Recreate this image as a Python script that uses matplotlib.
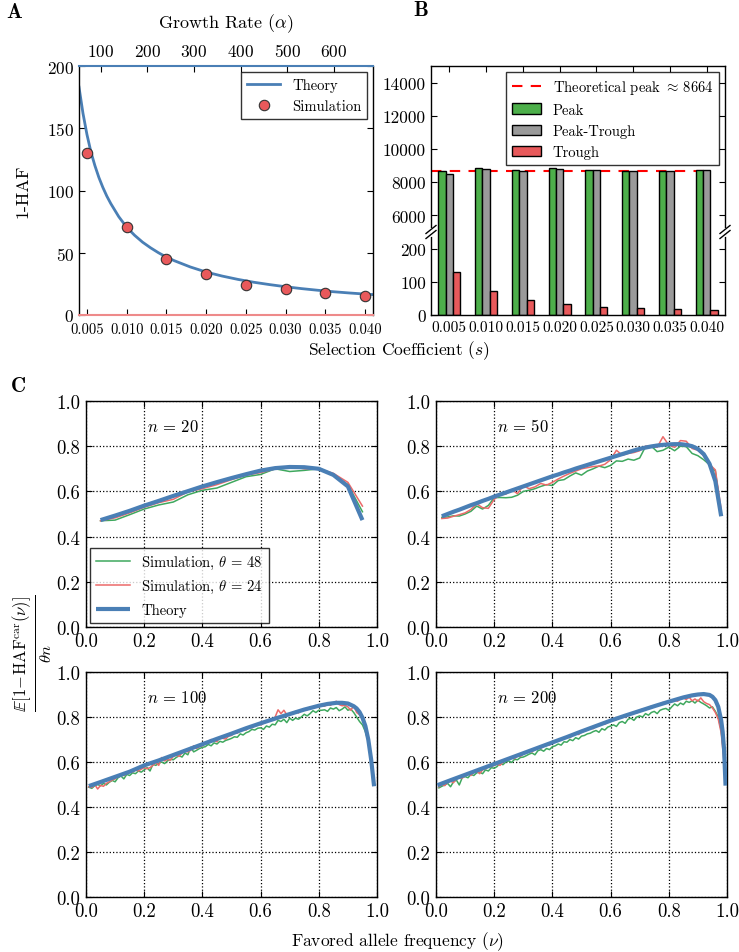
import numpy as np
import matplotlib
matplotlib.use('Agg')
import matplotlib.pyplot as plt
from matplotlib.lines import Line2D

plt.rcParams.update({
    'font.family': 'cmr10',
    'mathtext.fontset': 'cm',
    'axes.formatter.use_mathtext': True,
    'xtick.direction': 'in', 'ytick.direction': 'in',
    'xtick.major.size': 4, 'ytick.major.size': 4,
    'axes.linewidth': 1.0,
    'axes.unicode_minus': False,
})

# ---------------- data ----------------
s_vals = [0.005, 0.010, 0.015, 0.020, 0.025, 0.030, 0.035, 0.040]
s_labels = ['0.005', '0.010', '0.015', '0.020', '0.025', '0.030', '0.035', '0.040']
sim_haf = [130, 71, 45, 33, 24, 21, 17.5, 15]
theory_s = [0.004, 0.0045, 0.005, 0.0055, 0.006, 0.0065, 0.007, 0.0075, 0.008, 0.009,
            0.010, 0.011, 0.012, 0.013, 0.014, 0.015, 0.016, 0.018, 0.020, 0.022,
            0.024, 0.026, 0.028, 0.030, 0.032, 0.034, 0.036, 0.038, 0.040, 0.041]
theory_haf = [183, 162, 145, 131, 120, 110.5, 102.5, 95.5, 89.5, 79,
              70.5, 64, 58.5, 54, 50, 46.5, 43.6, 38.6, 34.5, 31.3,
              28.6, 26.3, 24.4, 22.7, 21.2, 19.9, 18.7, 17.7, 16.8, 16.4]
alpha_ticks = [100, 200, 300, 400, 500, 600]

peak = [8650, 8850, 8720, 8830, 8730, 8680, 8680, 8750]
peak_trough = [8520, 8780, 8680, 8800, 8710, 8660, 8660, 8740]
trough = [130, 71, 45, 33, 24, 21, 17, 15]
theoretical_peak = 8664

# Panel C
theory20 = [0.473, 0.493, 0.514, 0.537, 0.558, 0.580, 0.601, 0.622, 0.641, 0.659,
            0.676, 0.692, 0.703, 0.708, 0.707, 0.700, 0.673, 0.622, 0.473]
green20 = [0.470, 0.473, 0.497, 0.522, 0.540, 0.553, 0.585, 0.605, 0.615, 0.640,
           0.665, 0.675, 0.700, 0.688, 0.693, 0.700, 0.675, 0.630, 0.510]
red20 = [0.470, 0.483, 0.505, 0.530, 0.550, 0.565, 0.598, 0.612, 0.630, 0.652,
         0.672, 0.683, 0.700, 0.712, 0.700, 0.700, 0.680, 0.640, 0.535]

theory50 = [0.490, 0.500, 0.510, 0.519, 0.529, 0.539, 0.548, 0.558, 0.567, 0.577,
            0.586, 0.595, 0.604, 0.613, 0.622, 0.631, 0.640, 0.649, 0.658, 0.667,
            0.675, 0.684, 0.692, 0.701, 0.709, 0.717, 0.725, 0.733, 0.741, 0.749,
            0.757, 0.765, 0.773, 0.781, 0.788, 0.794, 0.799, 0.803, 0.806, 0.808,
            0.809, 0.809, 0.806, 0.800, 0.788, 0.765, 0.722, 0.645, 0.490]
green50 = [0.485, 0.487, 0.492, 0.491, 0.500, 0.512, 0.535, 0.522, 0.538, 0.572,
           0.573, 0.572, 0.574, 0.583, 0.600, 0.605, 0.612, 0.622, 0.630, 0.626,
           0.648, 0.652, 0.668, 0.682, 0.672, 0.690, 0.700, 0.712, 0.705, 0.715,
           0.735, 0.733, 0.743, 0.738, 0.748, 0.798, 0.800, 0.776, 0.782, 0.796,
           0.780, 0.800, 0.798, 0.768, 0.758, 0.740, 0.718, 0.690, 0.500]
red50 = [0.480, 0.482, 0.490, 0.497, 0.505, 0.520, 0.545, 0.528, 0.525, 0.565,
         0.585, 0.588, 0.608, 0.590, 0.625, 0.612, 0.620, 0.635, 0.628, 0.640,
         0.655, 0.668, 0.680, 0.690, 0.700, 0.705, 0.710, 0.712, 0.720, 0.740,
         0.782, 0.760, 0.768, 0.772, 0.780, 0.800, 0.800, 0.795, 0.842, 0.805,
         0.795, 0.825, 0.822, 0.790, 0.782, 0.758, 0.720, 0.695, 0.520]

nu100_theory = [0.01, 0.05, 0.10, 0.15, 0.20, 0.25, 0.30, 0.35, 0.40, 0.45, 0.50, 0.55,
                0.60, 0.65, 0.70, 0.75, 0.80, 0.83, 0.86, 0.88, 0.90, 0.92, 0.93, 0.94,
                0.95, 0.96, 0.97, 0.98, 0.99]
theory100 = [0.493, 0.511, 0.534, 0.557, 0.585, 0.607, 0.631, 0.655, 0.679, 0.703, 0.726,
             0.750, 0.772, 0.793, 0.813, 0.833, 0.850, 0.858, 0.863, 0.863, 0.860, 0.848,
             0.838, 0.822, 0.797, 0.760, 0.700, 0.610, 0.492]
green100 = [0.488, 0.483, 0.495, 0.500, 0.494, 0.505, 0.498, 0.510, 0.518, 0.512,
            0.530, 0.538, 0.525, 0.545, 0.540, 0.552, 0.548, 0.560, 0.555, 0.565,
            0.575, 0.560, 0.590, 0.585, 0.595, 0.600, 0.593, 0.605, 0.612, 0.610,
            0.620, 0.628, 0.622, 0.640, 0.632, 0.665, 0.645, 0.652, 0.660, 0.665,
            0.668, 0.678, 0.672, 0.685, 0.680, 0.692, 0.688, 0.696, 0.700, 0.705,
            0.712, 0.710, 0.725, 0.720, 0.730, 0.735, 0.745, 0.742, 0.750, 0.752,
            0.745, 0.760, 0.755, 0.768, 0.765, 0.785, 0.780, 0.790, 0.775, 0.795,
            0.785, 0.795, 0.790, 0.800, 0.812, 0.805, 0.815, 0.828, 0.820, 0.830,
            0.830, 0.832, 0.825, 0.840, 0.835, 0.842, 0.828, 0.835, 0.845, 0.830,
            0.835, 0.820, 0.800, 0.780, 0.765, 0.735, 0.690, 0.600, 0.500]
red100 = [0.490, 0.487, 0.500, 0.480, 0.496, 0.492, 0.505, 0.512, 0.520, 0.525,
          0.535, 0.545, 0.540, 0.548, 0.560, 0.555, 0.565, 0.560, 0.568, 0.575,
          0.570, 0.575, 0.585, 0.598, 0.585, 0.620, 0.605, 0.612, 0.608, 0.625,
          0.630, 0.625, 0.640, 0.648, 0.645, 0.652, 0.672, 0.660, 0.668, 0.672,
          0.682, 0.690, 0.700, 0.695, 0.690, 0.710, 0.705, 0.702, 0.715, 0.718,
          0.730, 0.728, 0.740, 0.748, 0.742, 0.755, 0.752, 0.760, 0.770, 0.765,
          0.772, 0.778, 0.785, 0.790, 0.800, 0.832, 0.815, 0.830, 0.810, 0.815,
          0.820, 0.825, 0.818, 0.830, 0.835, 0.832, 0.845, 0.840, 0.850, 0.848,
          0.850, 0.848, 0.858, 0.852, 0.862, 0.870, 0.855, 0.850, 0.852, 0.845,
          0.830, 0.850, 0.820, 0.810, 0.790, 0.755, 0.700, 0.610, 0.500]

nu200_theory = [0.005, 0.05, 0.10, 0.15, 0.20, 0.25, 0.30, 0.35, 0.40, 0.45, 0.50, 0.55,
                0.60, 0.65, 0.70, 0.75, 0.80, 0.85, 0.88, 0.90, 0.92, 0.94, 0.95, 0.96,
                0.97, 0.98, 0.985, 0.99, 0.995]
theory200 = [0.497, 0.519, 0.543, 0.567, 0.591, 0.615, 0.639, 0.663, 0.687, 0.711, 0.736,
             0.760, 0.784, 0.806, 0.827, 0.848, 0.868, 0.887, 0.896, 0.900, 0.902, 0.898,
             0.890, 0.875, 0.845, 0.785, 0.735, 0.655, 0.495]
green200 = [0.485, 0.492, 0.498, 0.505, 0.490, 0.512, 0.520, 0.498, 0.530, 0.535,
            0.530, 0.545, 0.540, 0.552, 0.555, 0.548, 0.565, 0.560, 0.575, 0.572,
            0.580, 0.595, 0.588, 0.600, 0.605, 0.598, 0.612, 0.610, 0.620, 0.622,
            0.628, 0.635, 0.640, 0.632, 0.650, 0.655, 0.648, 0.660, 0.655, 0.668,
            0.672, 0.680, 0.675, 0.690, 0.688, 0.700, 0.695, 0.708, 0.702, 0.715,
            0.718, 0.725, 0.728, 0.735, 0.740, 0.732, 0.748, 0.742, 0.755, 0.760,
            0.765, 0.758, 0.775, 0.780, 0.772, 0.790, 0.795, 0.785, 0.800, 0.805,
            0.800, 0.815, 0.808, 0.820, 0.825, 0.815, 0.830, 0.835, 0.838, 0.830,
            0.845, 0.858, 0.850, 0.862, 0.855, 0.870, 0.865, 0.872, 0.862, 0.875,
            0.865, 0.858, 0.850, 0.840, 0.845, 0.825, 0.800, 0.740, 0.620]
red200 = [0.490, 0.500, 0.495, 0.510, 0.515, 0.508, 0.525, 0.530, 0.528, 0.540,
          0.552, 0.540, 0.555, 0.560, 0.548, 0.565, 0.570, 0.578, 0.580, 0.585,
          0.590, 0.585, 0.600, 0.608, 0.612, 0.622, 0.615, 0.628, 0.625, 0.635,
          0.640, 0.650, 0.645, 0.658, 0.665, 0.660, 0.672, 0.678, 0.675, 0.685,
          0.690, 0.695, 0.700, 0.705, 0.712, 0.708, 0.718, 0.725, 0.722, 0.732,
          0.738, 0.742, 0.752, 0.748, 0.758, 0.762, 0.770, 0.768, 0.775, 0.782,
          0.790, 0.788, 0.798, 0.805, 0.800, 0.812, 0.815, 0.820, 0.818, 0.830,
          0.835, 0.832, 0.842, 0.848, 0.845, 0.855, 0.852, 0.865, 0.860, 0.872,
          0.868, 0.875, 0.870, 0.880, 0.885, 0.878, 0.888, 0.872, 0.880, 0.870,
          0.885, 0.868, 0.860, 0.855, 0.840, 0.820, 0.790, 0.730, 0.600]

c_ticks = [0.0, 0.2, 0.4, 0.6, 0.8, 1.0]
c_ticklabels = ['0.0', '0.2', '0.4', '0.6', '0.8', '1.0']

# ---------------- colours ----------------
BLUE = '#4a7fb5'
GREEN_L = '#3fa85e'
RED_L = '#ec6a6a'
GREEN_B = '#4daf4a'
GRAY_B = '#9a9a9a'
RED_B = '#e8595b'

W, H = 739, 953
fig = plt.figure(figsize=(W / 100, H / 100), dpi=100)


def box(l, t, r, b):
    return [l / W, 1 - b / H, (r - l) / W, (b - t) / H]


# ---------------- Panel A ----------------
axA = fig.add_axes(box(79, 67, 373, 316))
axA.plot(theory_s, theory_haf, color=BLUE, lw=2, label='Theory', zorder=2)
axA.plot(s_vals, sim_haf, 'o', ms=7.5, mfc=RED_B, mec='#333333', mew=0.8,
         label='Simulation', zorder=3)
axA.set_xlim(0.004, 0.041)
axA.set_ylim(0, 200)
axA.set_xticks(s_vals)
axA.set_xticklabels(s_labels)
axA.set_yticks([0, 50, 100, 150, 200])
axA.tick_params(axis='x', labelsize=10.5, top=False, pad=5)
axA.tick_params(axis='y', labelsize=12.5, right=True)
axA.spines['bottom'].set_color('#ee8a8a')
axA.spines['bottom'].set_linewidth(1.5)
axA.spines['top'].set_visible(False)
axA.set_ylabel('1-HAF', fontsize=13, labelpad=12)
leg = axA.legend(loc='upper right', fontsize=10.5, fancybox=False, edgecolor='k',
                 numpoints=1, handlelength=2.3, borderaxespad=0.4)
leg.get_frame().set_linewidth(1.0)

axA2 = axA.twiny()
axA2.set_xlim(53, 684)
axA2.set_xticks(alpha_ticks)
axA2.tick_params(axis='x', labelsize=12.5, top=True, pad=5)
for sp in ('bottom', 'left', 'right'):
    axA2.spines[sp].set_visible(False)
axA2.spines['top'].set_color(BLUE)
axA2.spines['top'].set_linewidth(1.5)
axA2.set_xlabel(r'Growth Rate ($\alpha$)', fontsize=13, labelpad=11)

# ---------------- Panel B ----------------
axBu = fig.add_axes(box(431, 67, 725, 233))
axBl = fig.add_axes(box(431, 233, 725, 316))
pos = np.arange(len(s_vals))
bw = 0.2
axBu.plot([pos[0] - 0.5, pos[-1]], [theoretical_peak, theoretical_peak], color='red',
          ls='--', lw=1.5, dashes=(5, 4), zorder=1,
          label=r'Theoretical peak $\approx\,$%d' % theoretical_peak)
for ax in (axBu, axBl):
    ax.bar(pos - bw, peak, bw, color=GREEN_B, edgecolor='k', lw=1, label='Peak', zorder=2)
    ax.bar(pos, peak_trough, bw, color=GRAY_B, edgecolor='k', lw=1, label='Peak-Trough', zorder=2)
    ax.bar(pos + bw, trough, bw, color=RED_B, edgecolor='k', lw=1, label='Trough', zorder=2)
    ax.set_xlim(-0.5, 7.5)
    ax.tick_params(axis='y', labelsize=12.5, right=True)
axBu.set_ylim(5000, 15000)
axBu.set_yticks([6000, 8000, 10000, 12000, 14000])
axBu.set_yticklabels(['6000', '8000', '10000', '12000', '14000'])
axBu.spines['bottom'].set_visible(False)
axBu.set_xticks(pos)
axBu.tick_params(axis='x', top=True, bottom=False, labelbottom=False)
axBl.set_ylim(0, 250)
axBl.set_yticks([0, 100, 200])
axBl.set_yticklabels(['0', '100', '200'])
axBl.spines['top'].set_visible(False)
axBl.set_xticks(pos)
axBl.set_xticklabels(s_labels)
axBl.tick_params(axis='x', labelsize=11, top=False, pad=4)
legB = axBu.legend(loc='upper right', fontsize=10.5, fancybox=False, edgecolor='k',
                   handlelength=2.0, borderaxespad=0.4)
legB.get_frame().set_linewidth(1.0)

# break marks
for xp in (431, 725):
    fig.add_artist(Line2D([xp / W, xp / W], [1 - 230 / H, 1 - 236 / H], color='white', lw=2))
    for dy in (-2.5, 2.5):
        yc = 233 + dy
        fig.add_artist(Line2D([(xp - 5) / W, (xp + 5) / W],
                              [1 - (yc + 4) / H, 1 - (yc - 4) / H],
                              color='k', lw=1.0))

# ---------------- Panel C ----------------
panels = [
    (box(86, 402, 377, 628), 20, green20, red20, None, theory20),
    (box(436, 402, 727, 628), 50, green50, red50, None, theory50),
    (box(86, 673, 377, 898), 100, green100, red100, nu100_theory, theory100),
    (box(436, 673, 727, 898), 200, green200, red200, nu200_theory, theory200),
]
for i, (rect, n, g, r, tnu, tv) in enumerate(panels):
    ax = fig.add_axes(rect)
    xs = np.arange(1, len(g) + 1) / (len(g) + 1)
    ax.plot(xs, g, color=GREEN_L, lw=1.1, label=r'Simulation, $\theta\,=\,48$', zorder=3)
    ax.plot(xs, r, color=RED_L, lw=1.1, label=r'Simulation, $\theta\,=\,24$', zorder=3)
    tx = xs if tnu is None else tnu
    ax.plot(tx, tv, color=BLUE, lw=3, label='Theory', zorder=4, solid_capstyle='butt')
    ax.set_xlim(0, 1)
    ax.set_ylim(0, 1)
    ax.set_xticks(c_ticks)
    ax.set_xticklabels(c_ticklabels)
    ax.set_yticks(c_ticks)
    ax.set_yticklabels(c_ticklabels)
    ax.tick_params(labelsize=13.5, top=True, right=True, pad=4)
    ax.grid(True, linestyle=':', color='k', lw=0.9)
    ax.text(0.21, 0.89, r'$n\,=\,%d$' % n, transform=ax.transAxes, fontsize=12,
            ha='left', va='center')
    if i == 0:
        lg = ax.legend(loc='lower left', fontsize=10.5, fancybox=False, edgecolor='k',
                       handlelength=2.3, borderaxespad=0.3)
        lg.get_frame().set_linewidth(1.0)

# ---------------- labels ----------------
fig.text(14 / W, 1 - 13 / H, 'A', family='cmb10', fontsize=15, ha='center', va='center')
fig.text(421 / W, 1 - 11 / H, 'B', family='cmb10', fontsize=15, ha='center', va='center')
fig.text(18 / W, 1 - 387 / H, 'C', family='cmb10', fontsize=15, ha='center', va='center')
fig.text(399 / W, 1 - 351 / H, r'Selection Coefficient ($s$)', fontsize=12.5,
         ha='center', va='center')
fig.text(398 / W, 1 - 942 / H, r'Favored allele frequency ($\nu$)', fontsize=12.5,
         ha='center', va='center')
fig.text(33 / W, 1 - 653 / H,
         r'$\frac{\mathbb{E}[\mathrm{1\!-\!HAF}^{\mathrm{car}}(\nu)]}{\theta n}$',
         fontsize=17, rotation=90, ha='center', va='center')

fig.savefig('out.png', dpi=100)
